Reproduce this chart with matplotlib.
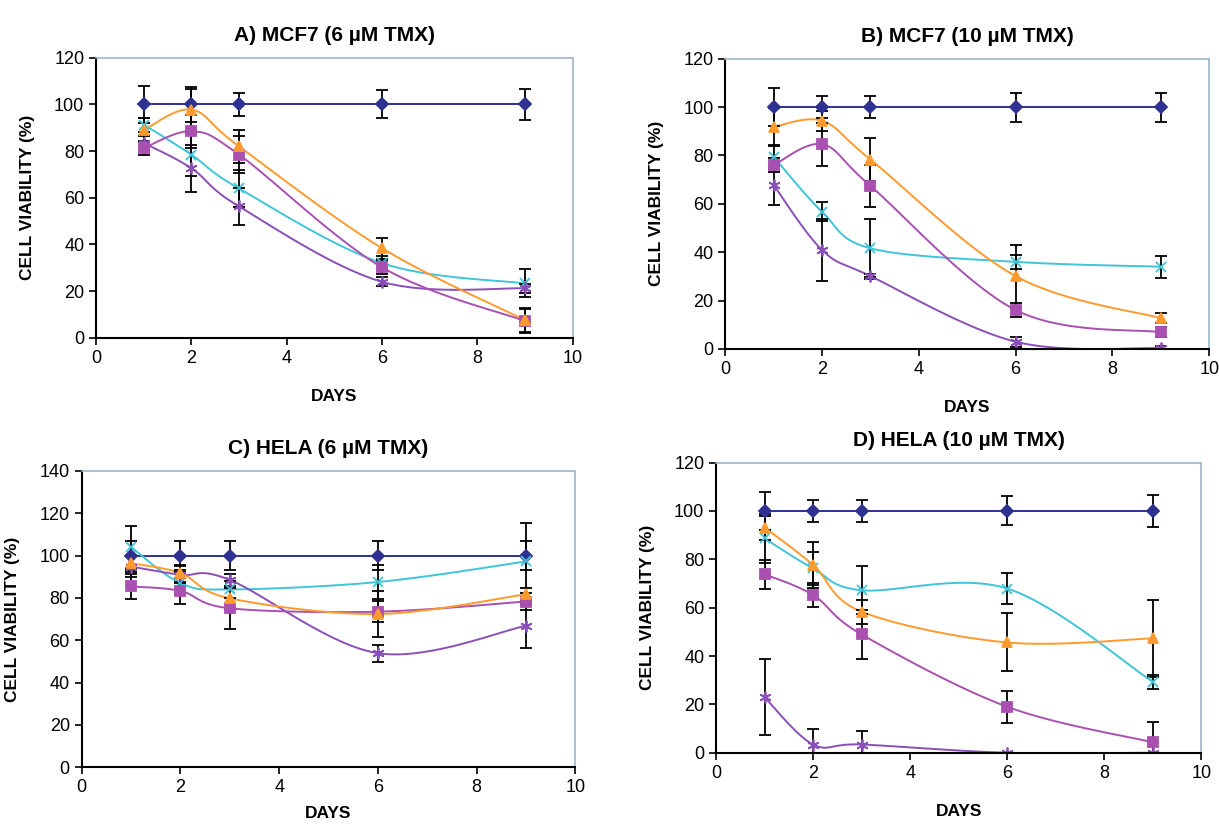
import numpy as np
import matplotlib
matplotlib.use("Agg")
from matplotlib import pyplot as plt

plt.rcParams['font.family'] = ['Liberation Sans', 'DejaVu Sans']

days = [1, 2, 3, 6, 9]

titles = ["A) MCF7 (6 \u00b5M TMX)", "B) MCF7 (10 \u00b5M TMX)",
          "C) HELA (6 \u00b5M TMX)", "D) HELA (10 \u00b5M TMX)"]
ymaxes = [120, 120, 140, 120]

# control
ctrl = [[100, 100, 100, 100, 100]] * 4
ctrl_err = [[8, 7.5, 5, 6, 6.5],
            [8, 4.5, 4.5, 6, 6],
            [7, 7, 7, 7, 7],
            [8, 4.5, 4.5, 6, 6.5]]

# orange triangles
tri = [[89, 97.8, 82, 38.4, 7.6],
       [91.8, 94.3, 78.3, 30.1, 12.7],
       [96.4, 91.7, 79.8, 72.4, 81.7],
       [93.1, 77.6, 58.3, 45.6, 47.3]]
tri_err = [[5, 9, 7, 4.5, 5],
           [8, 4, 9, 13, 2],
           [4, 4, 5, 11, 3],
           [5, 9.5, 5, 12, 16]]

# magenta squares
sq = [[81.3, 88.5, 78.5, 30.2, 7.2],
      [76, 84.6, 67.4, 16.1, 6.9],
      [85.4, 83.3, 75.1, 73.5, 78.3],
      [73.8, 65.2, 48.9, 19, 4.3]]
sq_err = [[3, 7, 8, 3, 5],
          [3, 9, 8.6, 3, 2],
          [6, 6, 10, 5, 4],
          [6, 5, 10, 6.5, 8.5]]

# cyan crosses
cx = [[91.4, 78.5, 64, 32, 23.3],
      [79.4, 56.7, 41.6, 36, 34],
      [104, 87, 84, 87.5, 97.2],
      [88.6, 76.2, 67.2, 67.9, 29.3]]
cx_err = [[3, 9, 8, 3, 6],
          [5, 4, 12, 3, 4.5],
          [10, 5, 4, 8, 18],
          [10, 7, 10, 6.5, 3]]

# purple stars
st = [[83.5, 72.7, 56.3, 24, 21.2],
      [67.7, 40.9, 30.1, 3, 0.3],
      [94.8, 90.9, 88.5, 53.9, 66.8],
      [22.9, 3.4, 3.4, 0, 0]]
st_err = [[3, 10, 8, 2, 2],
          [8, 13, 1, 2, 1],
          [5, 4, 3, 4, 10.5],
          [15.7, 6.6, 5.5, 0, 0]]

positions = [[0.0788, 0.591, 0.391, 0.339],
             [0.595, 0.5775, 0.397, 0.3515],
             [0.067, 0.071, 0.405, 0.359],
             [0.5875, 0.0887, 0.398, 0.3513]]
xlabel_pads = [16, 16, 7, 16]

NAVY = "#2E3192"
ORANGE = "#FF9A2E"
MAGENTA = "#A950B0"
CYAN = "#3FC4D8"
PURPLE = "#8A4FB8"


def smooth(x, y, ymax, n=30):
    # Catmull-Rom through points, like Excel "smoothed line"
    px = np.array(x, float) / 10.0
    py = np.array(y, float) / ymax
    P = np.column_stack([px, py])
    P = np.vstack([P[0], P, P[-1]])
    out = []
    for i in range(1, len(P) - 2):
        p0, p1, p2, p3 = P[i - 1], P[i], P[i + 1], P[i + 2]
        t = np.linspace(0, 1, n)[:, None]
        c = 0.5 * ((2 * p1) + (-p0 + p2) * t + (2 * p0 - 5 * p1 + 4 * p2 - p3) * t ** 2
                   + (-p0 + 3 * p1 - 3 * p2 + p3) * t ** 3)
        out.append(c)
    c = np.vstack(out)
    return c[:, 0] * 10.0, c[:, 1] * ymax


fig = plt.figure(figsize=(12.19, 8.26), dpi=100)

series = [
    (ctrl, ctrl_err, NAVY, "D", 6),
    (cx, cx_err, CYAN, "x", 7.5),
    (st, st_err, PURPLE, (6, 2, 0), 8.5),
    (sq, sq_err, MAGENTA, "s", 6.5),
    (tri, tri_err, ORANGE, "^", 7.5),
]

for k in range(4):
    ax = fig.add_axes(positions[k])
    ymax = ymaxes[k]
    for vals, errs, col, mk, ms in series:
        v = vals[k]
        e = errs[k]
        xs, ys = smooth(days, v, ymax)
        ax.plot(xs, ys, color=col, lw=1.4, zorder=2)
        ax.errorbar(days, v, yerr=e, fmt="none", ecolor="black", elinewidth=1.3,
                    capsize=4.5, capthick=1.3, zorder=3)
        ax.plot(days, v, linestyle="None", marker=mk, markersize=ms, color=col,
                markeredgecolor=col, markeredgewidth=1.3, zorder=4)
    ax.set_xlim(0, 10)
    ax.set_ylim(0, ymax)
    ax.set_xticks(range(0, 11, 2))
    ax.set_yticks(range(0, ymax + 1, 20))
    ax.tick_params(labelsize=13, direction="out", length=5, width=1.2, colors="black")
    for s in ["left", "bottom"]:
        ax.spines[s].set_linewidth(1.5)
        ax.spines[s].set_color("black")
    for s in ["top", "right"]:
        ax.spines[s].set_color("#9DB8C8")
        ax.spines[s].set_linewidth(1.2)
    ax.set_title(titles[k], fontsize=15, fontweight="bold", pad=12)
    ax.set_xlabel("DAYS", fontsize=12.5, fontweight="bold", labelpad=xlabel_pads[k])
    ax.set_ylabel("CELL VIABILITY (%)", fontsize=12.5, fontweight="bold", labelpad=14)
    for spine in ax.spines.values():
        spine.set_zorder(5)

fig.savefig("out.png", dpi=100)
